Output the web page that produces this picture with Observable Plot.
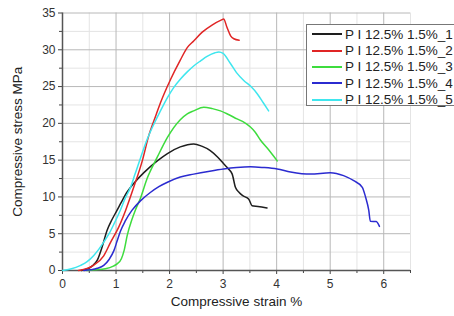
<!DOCTYPE html>
<html>
<head>
<meta charset="utf-8">
<script src="https://cdn.jsdelivr.net/npm/d3@7"></script>
<script src="https://cdn.jsdelivr.net/npm/@observablehq/plot@0.6"></script>
<style>
  html, body { margin: 0; padding: 0; background: #fff; overflow: hidden; }
  #wrap { position: relative; width: 454px; height: 316px; font-family: "Liberation Sans", Arial, sans-serif; }
  #legend { position: absolute; left: 306px; top: 24px; width: 160px; height: 82px; border: 1px solid #777; background: #fff; box-sizing: border-box; }
  .row { position: absolute; left: 0; height: 16px; display: flex; align-items: center; font-size: 13.5px; color: #222; white-space: nowrap; }
  .sw { display: inline-block; width: 30px; height: 0; border-top: 2px solid; margin-left: 5px; margin-right: 3px; }
</style>
</head>
<body>
<div id="wrap"></div>
<script>
const seriesNames = ["P I 12.5% 1.5%_1", "P I 12.5% 1.5%_2", "P I 12.5% 1.5%_3", "P I 12.5% 1.5%_4", "P I 12.5% 1.5%_5"];
const seriesColors = ["#1e1e1e", "#e02525", "#3ddc3d", "#2b2bd0", "#3fe6ee"];

const s1x = [0.35,0.46,0.55,0.65,0.74,0.83,0.93,1.02,1.1,1.21,1.35,1.52,1.77,1.96,2.2,2.45,2.6,2.76,2.9,3.01,3.1,3.17,3.23,3.3,3.36,3.48,3.54,3.65,3.82];
const s1y = [0,0.2,0.6,1.4,3.2,5.4,7.0,8.2,9.3,10.7,12.0,13.3,14.9,15.9,16.8,17.2,16.9,16.3,15.4,14.5,13.8,13.1,11.3,10.6,10.2,9.7,8.8,8.7,8.5];

const s2x = [0.3,0.46,0.58,0.77,0.9,1.05,1.18,1.33,1.49,1.61,1.74,1.83,2.02,2.2,2.33,2.45,2.61,2.8,2.98,3.01,3.07,3.14,3.2,3.3];
const s2y = [0,0.27,0.7,2.0,3.85,5.9,8.2,11.3,14.9,18.3,21.0,22.8,26.0,28.6,30.3,31.2,32.4,33.4,34.1,34.2,33.1,31.9,31.5,31.3];

const s3x = [0.45,0.6,0.8,0.95,1.02,1.1,1.15,1.21,1.3,1.36,1.46,1.58,1.77,1.96,2.2,2.33,2.45,2.64,2.8,2.95,3.1,3.26,3.4,3.51,3.6,3.7,3.85,4.01];
const s3y = [0,0.1,0.25,0.6,0.9,1.6,2.7,4.8,7.0,8.2,9.9,12.5,15.4,18.1,20.5,21.3,21.7,22.2,22.0,21.7,21.2,20.6,20.1,19.5,18.8,17.7,16.4,14.9];

const s4x = [0.4,0.52,0.65,0.77,0.87,0.96,1.02,1.08,1.17,1.3,1.46,1.64,1.8,1.96,2.2,2.45,2.75,3.01,3.25,3.51,3.75,4.01,4.26,4.63,5.0,5.25,5.44,5.6,5.66,5.72,5.75,5.86,5.92];
const s4y = [0,0.1,0.3,0.7,1.5,2.7,4.0,5.3,6.7,8.2,9.5,10.6,11.4,12.0,12.7,13.1,13.5,13.8,14.0,14.1,14.0,13.8,13.4,13.1,13.3,12.9,12.2,11.3,10.0,8.2,6.7,6.65,6.0];

const s5x = [0,0.15,0.34,0.46,0.58,0.68,0.77,0.87,0.96,1.08,1.17,1.27,1.35,1.43,1.5,1.58,1.7,1.83,1.96,2.08,2.2,2.33,2.45,2.58,2.7,2.85,2.92,3.0,3.14,3.25,3.39,3.52,3.64,3.75,3.85];
const s5y = [0,0.2,0.7,1.2,2.0,2.9,3.85,5.0,6.3,8.2,9.8,11.3,13.0,14.7,16.2,17.8,19.8,21.7,23.5,24.9,26.0,27.0,27.8,28.5,29.1,29.6,29.7,29.5,28.1,26.9,25.8,25.0,24.0,22.8,21.7];

const xMajor = [0,1,2,3,4,5,6];
const xMinor = [0.5,1.5,2.5,3.5,4.5,5.5,6.5];
const yMajor = [0,5,10,15,20,25,30,35];
const yMinor = [2.5,7.5,12.5,17.5,22.5,27.5,32.5];
const xLabel = "Compressive strain %";
const yLabel = "Compressive stress MPa";

const allX = [s1x, s2x, s3x, s4x, s5x];
const allY = [s1y, s2y, s3y, s4y, s5y];
const data = [];
allX.forEach((xs, i) => xs.forEach((x, j) => data.push({series: seriesNames[i], x, y: allY[i][j]})));

const chart = Plot.plot({
  width: 454,
  height: 316,
  marginLeft: 62,
  marginRight: 44,
  marginTop: 12.5,
  marginBottom: 46,
  style: {fontFamily: "Liberation Sans, Arial, sans-serif", fontSize: "12px", color: "#333", background: "#fff"},
  x: {domain: [0, 6.5]},
  y: {domain: [0, 35]},
  color: {domain: seriesNames, range: seriesColors},
  marks: [
    Plot.gridX(xMinor, {stroke: "#e4e4e4", strokeOpacity: 1}),
    Plot.gridY(yMinor, {stroke: "#e4e4e4", strokeOpacity: 1}),
    Plot.gridX(xMajor, {stroke: "#b8b8b8", strokeOpacity: 1}),
    Plot.gridY(yMajor, {stroke: "#b8b8b8", strokeOpacity: 1}),
    Plot.axisX(xMajor, {tickSize: 4, tickPadding: 5, label: null, stroke: "#444", fontSize: 12}),
    Plot.axisX(xMinor, {tickSize: 3, tickFormat: () => "", label: null, stroke: "#444"}),
    Plot.axisY(yMajor, {tickSize: 4, tickPadding: 3, label: null, stroke: "#444", fontSize: 12}),
    Plot.axisY(yMinor, {tickSize: 3, tickFormat: () => "", label: null, stroke: "#444"}),
    Plot.ruleY([0], {stroke: "#555", strokeWidth: 1.5}),
    Plot.ruleX([0], {stroke: "#555", strokeWidth: 1.5}),
    Plot.line(data, {x: "x", y: "y", z: "series", stroke: "series", strokeWidth: 1.5, curve: "monotone-x"}),
    Plot.text([xLabel], {frameAnchor: "bottom", dy: 35, fontSize: 13.5, fill: "#222"}),
    Plot.text([yLabel], {frameAnchor: "left", textAnchor: "middle", dx: -45, rotate: -90, fontSize: 13.5, fill: "#222"})
  ]
});

const wrap = document.getElementById("wrap");
wrap.appendChild(chart);

const legend = document.createElement("div");
legend.id = "legend";
const rowTops = [1, 17.5, 33.5, 50, 66.5];
seriesNames.forEach((name, i) => {
  const row = document.createElement("div");
  row.className = "row";
  row.style.top = rowTops[i] + "px";
  const sw = document.createElement("span");
  sw.className = "sw";
  sw.style.borderTopColor = seriesColors[i];
  const t = document.createElement("span");
  t.textContent = name;
  row.appendChild(sw);
  row.appendChild(t);
  legend.appendChild(row);
});
wrap.appendChild(legend);
</script>
</body>
</html>
